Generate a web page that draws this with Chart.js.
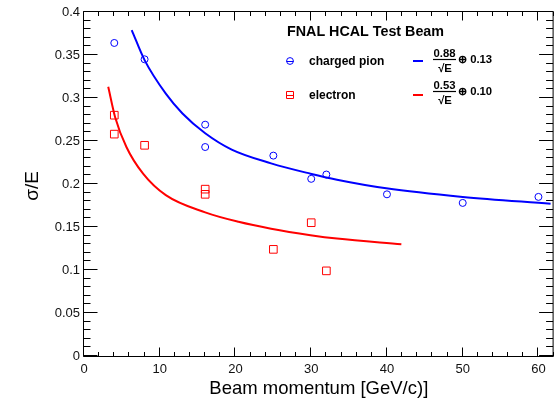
<!DOCTYPE html>
<html>
<head>
<meta charset="utf-8">
<script src="https://cdn.jsdelivr.net/npm/chart.js@4.4.1/dist/chart.umd.min.js"></script>
<style>
  body { margin: 0; background: #fff; }
  #wrap { width: 560px; height: 403px; }
</style>
</head>
<body>
<div id="wrap"><canvas id="chart_res" width="560" height="403"></canvas></div>
<script>
// measured points
const pionP = [4, 8, 16, 16, 25, 30, 32, 40, 50, 60];
const pionRes = [0.364, 0.345, 0.269, 0.243, 0.233, 0.206, 0.211, 0.188, 0.178, 0.185];
const elecP = [4, 4, 8, 16, 16, 25, 30, 32];
const elecRes = [0.280, 0.258, 0.245, 0.194, 0.188, 0.124, 0.155, 0.099];

// fit curves
const pionFitP = [6.3, 8, 10.8, 13, 16, 19.5, 24.7, 29.9, 33.4, 39.9, 50, 61.6];
const pionFitRes = [0.379, 0.344, 0.305, 0.282, 0.259, 0.240, 0.224, 0.212, 0.205, 0.195, 0.185, 0.177];
const elecFitP = [3.2, 4.1, 5.6, 7.8, 10.8, 16, 20.4, 24.7, 29.9, 33.4, 41.9];
const elecFitRes = [0.313, 0.278, 0.243, 0.212, 0.187, 0.167, 0.156, 0.148, 0.1405, 0.1365, 0.130];

// legend text
const legendTitle = 'FNAL HCAL Test Beam';
const seriesNames = ['charged pion', 'electron'];
const fitStoch = ['0.88', '0.53'];
const fitConst = ['0.13', '0.10'];

const xTitle = 'Beam momentum [GeV/c)]';
const yTitle = 'σ/E';

const FONT = '"Liberation Sans", Arial, Helvetica, sans-serif';
const BLUE = '#0000ff';
const RED = '#ff0000';

let
    pts = (xs, ys) => xs.map((v, i) => ({x: v, y: ys[i]}));

let
    datos = {
        datasets: [
            {
                label: seriesNames[0] + ' fit',
                data: pts(pionFitP, pionFitRes),
                showLine: true,
                borderColor: BLUE,
                borderWidth: 2,
                pointRadius: 0,
                cubicInterpolationMode: 'monotone',
            },
            {
                label: seriesNames[1] + ' fit',
                data: pts(elecFitP, elecFitRes),
                showLine: true,
                borderColor: RED,
                borderWidth: 2,
                pointRadius: 0,
                cubicInterpolationMode: 'monotone',
            },
            {
                label: seriesNames[0],
                data: pts(pionP, pionRes),
                pointStyle: 'circle',
                pointRadius: 3.5,
                borderColor: BLUE,
                backgroundColor: 'rgba(0,0,0,0)',
                borderWidth: 1,
            },
            {
                label: seriesNames[1],
                data: pts(elecP, elecRes),
                pointStyle: 'rect',
                pointRadius: 5.4,
                borderColor: RED,
                backgroundColor: 'rgba(0,0,0,0)',
                borderWidth: 1,
            }
        ]};

// ROOT style frame with inward ticks on all four sides
const marco = {
    id: 'marco',
    afterDatasetsDraw(chart) {
        const {ctx, chartArea: a, scales: {x, y}} = chart;
        const L = a.left - 0.5, R = a.right - 0.5, T = a.top - 0.5, B = a.bottom + 0.5;
        ctx.save();
        ctx.strokeStyle = '#000';
        ctx.lineWidth = 1;
        ctx.beginPath();
        ctx.moveTo(R, T); ctx.lineTo(L, T); ctx.lineTo(L, B); ctx.lineTo(R, B); ctx.lineTo(R, T);
        for (let i = 0; i <= 40; i++) {
            const py = Math.round(y.getPixelForValue(i / 100)) - 0.5;
            const len = i % 5 === 0 ? 14 : 7;
            ctx.moveTo(L, py); ctx.lineTo(L + len, py);
            ctx.moveTo(R, py); ctx.lineTo(R - len, py);
        }
        for (let i = 0; i <= 31; i++) {
            const px = Math.round(x.getPixelForValue(i * 2)) - 0.5;
            const len = i % 5 === 0 ? 9 : 4.5;
            ctx.moveTo(px, B); ctx.lineTo(px, B - len);
            ctx.moveTo(px, T); ctx.lineTo(px, T + len);
        }
        ctx.stroke();

        // axis titles
        ctx.fillStyle = '#000';
        ctx.textBaseline = 'middle';
        ctx.textAlign = 'center';
        ctx.font = '18.5px ' + FONT;
        ctx.fillText(xTitle, (a.left + a.right) / 2, 389);
        ctx.save();
        ctx.translate(33, (a.top + a.bottom) / 2 + 2);
        ctx.rotate(-Math.PI / 2);
        ctx.font = '19px ' + FONT;
        ctx.fillText(yTitle, 0, 0);
        ctx.restore();

        // legend
        ctx.textAlign = 'left';
        ctx.font = 'bold 14.3px ' + FONT;
        ctx.fillText(legendTitle, 287, 32);

        const rows = [61, 95];
        const colors = [BLUE, RED];
        for (let k = 0; k < 2; k++) {
            const cy = rows[k];
            ctx.strokeStyle = colors[k];
            ctx.lineWidth = 1;
            ctx.beginPath();
            if (k === 0) {
                ctx.arc(290, cy, 3.4, 0, Math.PI * 2);
            } else {
                ctx.rect(286.5, cy - 3.5, 7, 7);
            }
            ctx.moveTo(286.5, cy + 0.5); ctx.lineTo(293.5, cy + 0.5);
            ctx.stroke();

            ctx.fillStyle = '#000';
            ctx.font = 'bold 12px ' + FONT;
            ctx.fillText(seriesNames[k], 309, cy + 0.5);

            ctx.strokeStyle = colors[k];
            ctx.lineWidth = 2;
            ctx.beginPath();
            ctx.moveTo(413, cy); ctx.lineTo(423, cy);
            ctx.stroke();

            const fy = k === 0 ? 59.5 : 91.5;
            ctx.font = 'bold 11.3px ' + FONT;
            ctx.textAlign = 'center';
            ctx.fillText(fitStoch[k], 444.5, fy - 6);
            ctx.fillText('√E', 445, fy + 9.5);
            ctx.strokeStyle = '#000';
            ctx.lineWidth = 1.2;
            ctx.beginPath();
            ctx.moveTo(433, fy); ctx.lineTo(456, fy);
            ctx.stroke();
            ctx.textAlign = 'left';
            ctx.fillText('⊕ ' + fitConst[k], 458, fy);
        }
        ctx.restore();
    }
};

let
    opciones = {
        responsive: false,
        animation: false,
        layout: {padding: {left: 0, top: 12, right: 0, bottom: 0}},
        scales: {
            x: {
                type: 'linear',
                min: 0,
                max: 62,
                afterFit: s => { s.height = 47; },
                grid: {display: false, drawTicks: false},
                border: {display: false},
                ticks: {
                    stepSize: 10,
                    includeBounds: false,
                    maxRotation: 0,
                    padding: 6,
                    color: '#111',
                    font: {family: FONT, size: 13},
                    callback: v => (v % 10 === 0 ? String(v) : '')
                }
            },
            y: {
                type: 'linear',
                min: 0,
                max: 0.4,
                afterFit: s => { s.width = 84; },
                grid: {display: false, drawTicks: false},
                border: {display: false},
                ticks: {
                    stepSize: 0.05,
                    padding: 4,
                    color: '#111',
                    font: {family: FONT, size: 13},
                    callback: v => String(parseFloat(v.toFixed(2)))
                }
            }
        },
        plugins: {
            legend: false,
            title: {display: false},
            tooltip: {enabled: false}
        }
    };

let ctx = document.getElementById('chart_res');
let resolucion = new Chart(ctx, {
    type: 'scatter',
    data: datos,
    options: opciones,
    plugins: [marco]
});
</script>
</body>
</html>
